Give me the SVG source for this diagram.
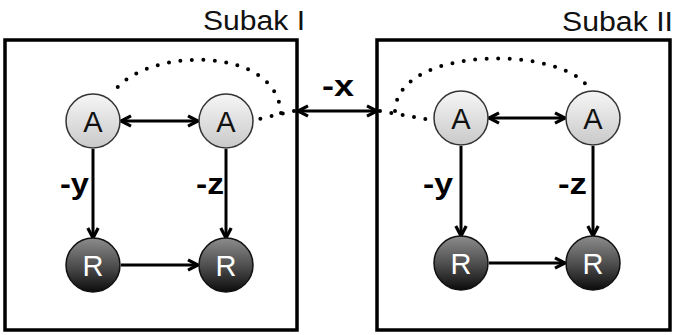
<svg xmlns="http://www.w3.org/2000/svg" width="680" height="335" viewBox="0 0 680 335">
<style>
.box{fill:none;stroke:#000;stroke-width:3.5}
.title{font-family:"Liberation Sans",Arial,sans-serif;font-size:27px;fill:#111}
.lbl{font-family:"Liberation Sans",Arial,sans-serif;font-size:30px;font-weight:bold;fill:#000}
.na{fill:url(#ga);stroke:#333;stroke-width:1.5}
.nr{fill:url(#gr);stroke:#111;stroke-width:1.5}
.ta{font-family:"Liberation Sans",Arial,sans-serif;font-size:29px;fill:#111;text-anchor:middle}
.tr{font-family:"Liberation Sans",Arial,sans-serif;font-size:29px;fill:#fff;text-anchor:middle}
.ar{fill:none;stroke:#000;stroke-width:3}
.dot{fill:none;stroke:#000;stroke-width:4;stroke-linecap:round;stroke-dasharray:0 11.5}
</style>
<defs>
<linearGradient id="ga" x1="0" y1="0" x2="0" y2="1">
<stop offset="0" stop-color="#f6f6f6"/><stop offset="1" stop-color="#c9c9c9"/>
</linearGradient>
<linearGradient id="gr" x1="0" y1="0" x2="0" y2="1">
<stop offset="0" stop-color="#8c8c8c"/><stop offset="0.55" stop-color="#4a4a4a"/><stop offset="1" stop-color="#0c0c0c"/>
</linearGradient>
<marker id="ah" viewBox="0 0 14 14" refX="12" refY="7" markerWidth="14" markerHeight="14" markerUnits="userSpaceOnUse" orient="auto-start-reverse">
<path d="M2,1.8 L12,7 L2,12.2" fill="none" stroke="#000" stroke-width="3.2" stroke-linejoin="miter"/>
</marker>
</defs>

<g id="subak1">
<rect class="box" x="5" y="40" width="292" height="290"/>
<text class="title" x="203" y="30" textLength="102" lengthAdjust="spacingAndGlyphs">Subak I</text>
</g>
<g id="subak2">
<rect class="box" x="377" y="40" width="293" height="290"/>
<text class="title" x="562" y="31" textLength="111" lengthAdjust="spacingAndGlyphs">Subak II</text>
</g>

<g id="connectors">
<line class="ar" x1="121" y1="121" x2="198" y2="121" marker-start="url(#ah)" marker-end="url(#ah)"/>
<line class="ar" x1="93" y1="149" x2="93" y2="238" marker-end="url(#ah)"/>
<line class="ar" x1="226" y1="149" x2="226" y2="238" marker-end="url(#ah)"/>
<line class="ar" x1="121" y1="265" x2="198" y2="265" marker-end="url(#ah)"/>
<line class="ar" x1="489" y1="118" x2="565" y2="118" marker-start="url(#ah)" marker-end="url(#ah)"/>
<line class="ar" x1="461" y1="146" x2="461" y2="236" marker-end="url(#ah)"/>
<line class="ar" x1="593" y1="146" x2="593" y2="236" marker-end="url(#ah)"/>
<line class="ar" x1="489" y1="263" x2="565" y2="263" marker-end="url(#ah)"/>
<line class="ar" x1="298" y1="111" x2="377" y2="111" marker-start="url(#ah)" marker-end="url(#ah)"/>
<path class="dot" d="M294,111 L259,119"/>
<path class="dot" d="M281,113 C276,45 150,48 116,89"/>
<path class="dot" d="M380,111 L426,119"/>
<path class="dot" d="M395,111 C397,45 565,45 590,90"/>
<text class="lbl" x="322" y="96" textLength="32" lengthAdjust="spacingAndGlyphs">-x</text>
<text class="lbl" x="60" y="194" textLength="29" lengthAdjust="spacingAndGlyphs">-y</text>
<text class="lbl" x="196" y="194" textLength="28" lengthAdjust="spacingAndGlyphs">-z</text>
<text class="lbl" x="423" y="194" textLength="30" lengthAdjust="spacingAndGlyphs">-y</text>
<text class="lbl" x="558" y="194" textLength="29" lengthAdjust="spacingAndGlyphs">-z</text>
</g>

<g id="a1"><circle class="na" cx="93" cy="121" r="27"/><text class="ta" x="93" y="132">A</text></g>
<g id="a2"><circle class="na" cx="226" cy="121" r="27"/><text class="ta" x="226" y="132">A</text></g>
<g id="r1"><circle class="nr" cx="93" cy="265" r="27"/><text class="tr" x="93" y="276">R</text></g>
<g id="r2"><circle class="nr" cx="226" cy="265" r="27"/><text class="tr" x="226" y="276">R</text></g>
<g id="a3"><circle class="na" cx="461" cy="118" r="27"/><text class="ta" x="461" y="129">A</text></g>
<g id="a4"><circle class="na" cx="593" cy="118" r="27"/><text class="ta" x="593" y="129">A</text></g>
<g id="r3"><circle class="nr" cx="461" cy="263" r="27"/><text class="tr" x="461" y="274">R</text></g>
<g id="r4"><circle class="nr" cx="593" cy="263" r="27"/><text class="tr" x="593" y="274">R</text></g>
</svg>
